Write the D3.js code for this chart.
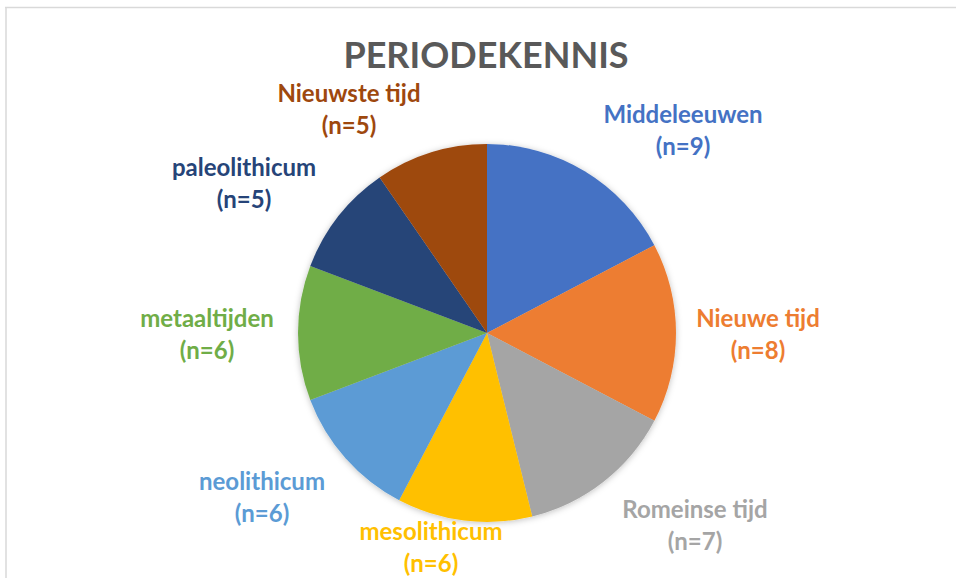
<!DOCTYPE html>
<html>
<head>
<meta charset="utf-8">
<script src="https://cdn.jsdelivr.net/npm/d3@7"></script>
<style>
  body { margin: 0; background: #fff; }
  text { font-family: Lato, "Open Sans", sans-serif; font-weight: bold; }
</style>
</head>
<body>
<div id="chart"></div>
<script>
// Chart data
var categories = ["Middeleeuwen", "Nieuwe tijd", "Romeinse tijd", "mesolithicum",
  "neolithicum", "metaaltijden", "paleolithicum", "Nieuwste tijd"];
var counts = [9, 8, 7, 6, 6, 6, 5, 5];
var colors = ["#4472C4", "#ED7D31", "#A5A5A5", "#FFC000",
  "#5B9BD5", "#70AD47", "#264478", "#9E480E"];

// Label anchors (centre x, first baseline y) as placed in the original
var labelAnchors = [[683, 123], [758, 327], [695, 518], [431, 540],
  [262, 490], [207, 327], [244, 176], [349, 102]];

var width = 956;
var height = 578;
var cx = 487;
var cy = 333;
var radius = 189;
var lineGap = 32;

var svg = d3.select("#chart")
  .append("svg")
  .attr("width", width)
  .attr("height", height);

// soft shadow under the pie
var defs = svg.append("defs");
defs.append("filter")
  .attr("id", "shadow")
  .attr("x", "-20%").attr("y", "-20%")
  .attr("width", "140%").attr("height", "140%")
  .append("feDropShadow")
  .attr("dx", 0).attr("dy", 1)
  .attr("stdDeviation", 3)
  .attr("flood-color", "#000")
  .attr("flood-opacity", 0.25);

// frame of the chart area
svg.append("line")
  .attr("x1", 5).attr("x2", width).attr("y1", 7.5).attr("y2", 7.5)
  .attr("stroke", "#d9d9d9").attr("stroke-width", 1.5);
svg.append("line")
  .attr("x1", 6).attr("x2", 6).attr("y1", 7).attr("y2", height)
  .attr("stroke", "#d9d9d9").attr("stroke-width", 1.5);

// Title
svg.append("text")
  .attr("x", 486)
  .attr("y", 68)
  .attr("text-anchor", "middle")
  .attr("fill", "#595959")
  .style("font-size", "36px")
  .text("PERIODEKENNIS");

var pie = d3.pie().sort(null).value(function(d) { return d; });
var arc = d3.arc().innerRadius(0).outerRadius(radius);
var slices = pie(counts);

var pieG = svg.append("g")
  .attr("transform", "translate(" + cx + "," + cy + ")")
  .attr("filter", "url(#shadow)");

pieG.selectAll("path")
  .data(slices)
  .enter()
  .append("path")
  .attr("d", arc)
  .attr("fill", function(d, i) { return colors[i]; });

// Data labels
var labels = svg.selectAll("g.lbl")
  .data(slices)
  .enter()
  .append("g")
  .attr("class", "lbl")
  .attr("fill", function(d, i) { return colors[i]; })
  .style("font-size", "24px")
  .attr("text-anchor", "middle");

labels.append("text")
  .attr("x", function(d, i) { return labelAnchors[i][0]; })
  .attr("y", function(d, i) { return labelAnchors[i][1]; })
  .text(function(d, i) { return categories[i]; });

labels.append("text")
  .attr("x", function(d, i) { return labelAnchors[i][0]; })
  .attr("y", function(d, i) { return labelAnchors[i][1] + lineGap; })
  .text(function(d) { return "(n=" + d.data + ")"; });
</script>
</body>
</html>
